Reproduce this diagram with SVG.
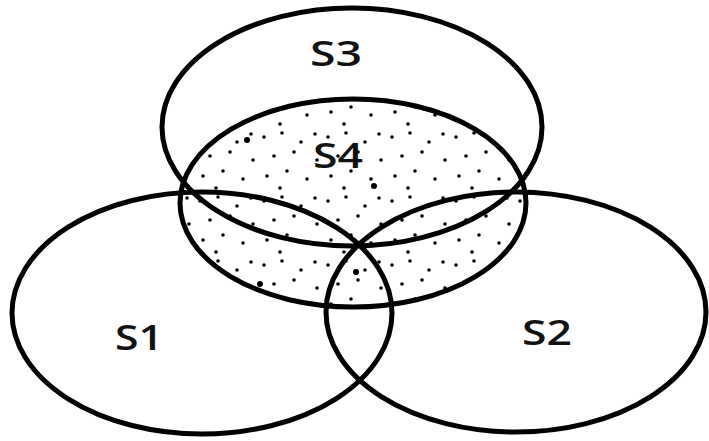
<svg xmlns="http://www.w3.org/2000/svg" width="709" height="441" viewBox="0 0 709 441">
  <style>
    .set { fill: none; stroke: #000; stroke-width: 5; }
    .lbl { font-family: "Open Sans", "Liberation Sans", sans-serif; font-size: 34px; font-weight: 600; fill: #111; }
    .dot { fill: #000; }
  </style>
  <defs>
    <pattern id="stipple" patternUnits="userSpaceOnUse" width="64" height="64" x="3" y="1">
      <circle class="dot" cx="5" cy="8" r="1.8"/>
      <circle class="dot" cx="23" cy="4" r="1.8"/>
      <circle class="dot" cx="42" cy="13" r="1.8"/>
      <circle class="dot" cx="58" cy="31" r="1.8"/>
      <circle class="dot" cx="15" cy="27" r="1.8"/>
      <circle class="dot" cx="35" cy="23" r="1.8"/>
      <circle class="dot" cx="8" cy="47" r="1.8"/>
      <circle class="dot" cx="28" cy="42" r="1.8"/>
      <circle class="dot" cx="48" cy="50" r="1.8"/>
      <circle class="dot" cx="56" cy="5" r="1.8"/>
      <circle class="dot" cx="21" cy="59" r="1.8"/>
    </pattern>
    <clipPath id="s4clip">
      <ellipse cx="353" cy="203" rx="173" ry="104"/>
    </clipPath>
  </defs>
  <rect width="709" height="441" fill="#fff"/>
  <g id="stippling" clip-path="url(#s4clip)">
    <rect x="170" y="90" width="370" height="230" fill="url(#stipple)"/>
    <circle class="dot" cx="247" cy="140" r="3"/>
    <circle class="dot" cx="374" cy="186" r="3"/>
    <circle class="dot" cx="260" cy="284" r="3"/>
    <circle class="dot" cx="356" cy="272" r="3"/>
  </g>
  <g id="S1">
    <ellipse class="set" cx="202" cy="313" rx="190" ry="121"/>
    <text class="lbl" x="115" y="350" textLength="48" lengthAdjust="spacingAndGlyphs">S1</text>
  </g>
  <g id="S2">
    <ellipse class="set" cx="516" cy="312" rx="190" ry="120"/>
    <text class="lbl" x="522" y="345" textLength="50" lengthAdjust="spacingAndGlyphs">S2</text>
  </g>
  <g id="S3">
    <ellipse class="set" cx="352" cy="127" rx="190" ry="119"/>
    <text class="lbl" x="310" y="66" textLength="52" lengthAdjust="spacingAndGlyphs">S3</text>
  </g>
  <g id="S4">
    <ellipse class="set" cx="353" cy="203" rx="173" ry="104"/>
    <text class="lbl" x="313" y="168" textLength="50" lengthAdjust="spacingAndGlyphs">S4</text>
  </g>
  <g id="connectors"/>
</svg>
